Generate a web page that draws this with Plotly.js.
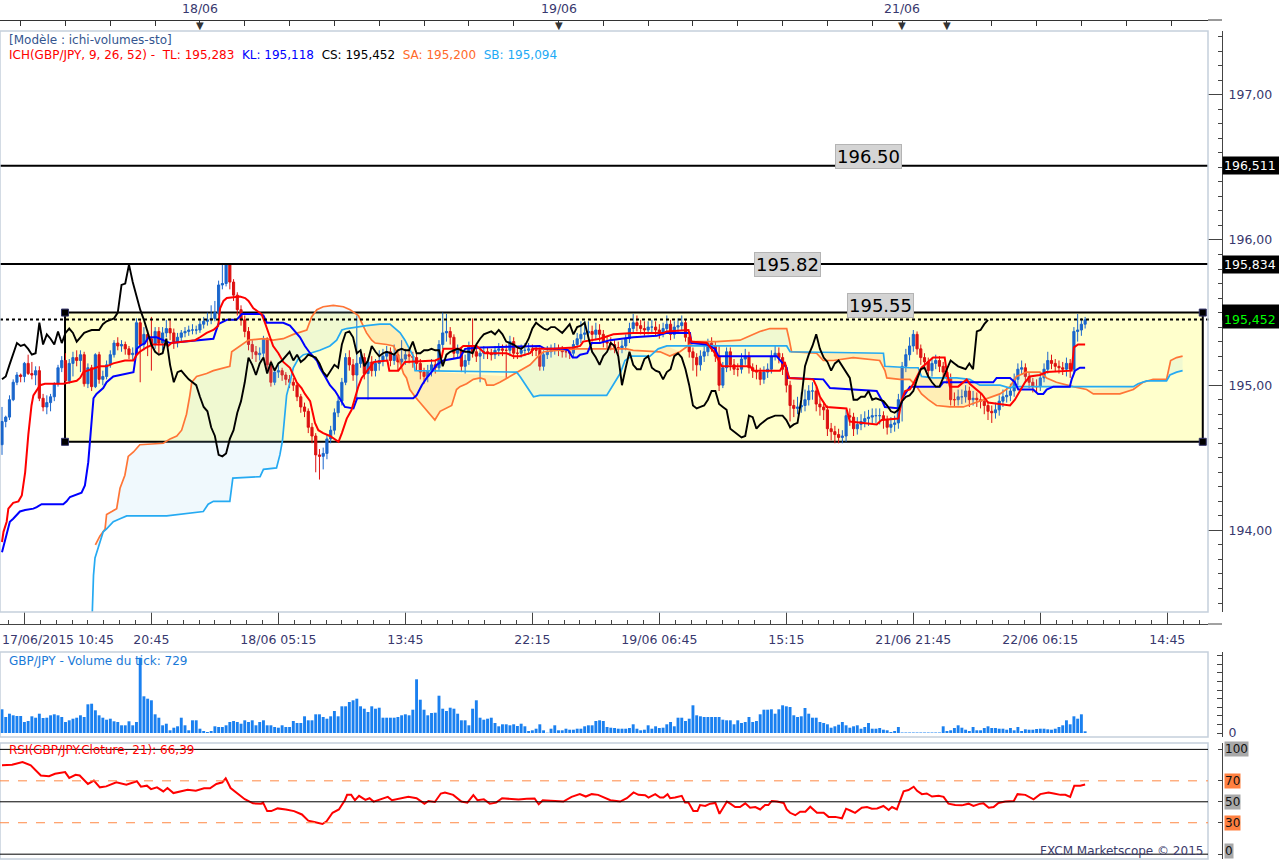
<!DOCTYPE html>
<html><head><meta charset="utf-8">
<script src="https://cdn.plot.ly/plotly-3.0.1.min.js"></script>
<style>html,body{margin:0;padding:0;background:#fff;}#chart{width:1279px;height:860px;}</style>
</head><body><div id="chart"></div>
<script>
// ---------- DATA (15-minute candles, index 0 = 17/06/2015 10:45) ----------
const closeP = [194.75,194.78,194.90,195.02,195.07,195.06,195.15,195.08,195.07,195.10,
194.91,194.85,194.88,194.92,195.01,195.12,195.17,195.03,195.15,195.19,
195.17,195.21,195.01,195.12,194.99,195.21,195.04,195.06,195.14,195.21,
195.29,195.27,195.28,195.25,195.21,195.22,195.43,195.28,195.35,195.32,
195.28,195.37,195.29,195.36,195.39,195.36,195.30,195.33,195.36,195.37,
195.38,195.38,195.38,195.42,195.44,195.45,195.46,195.50,195.69,195.70,
195.83,195.71,195.62,195.52,195.45,195.37,195.28,195.23,195.21,195.22,
195.32,195.14,195.02,195.09,195.10,195.07,195.04,195.02,195.00,194.92,
194.85,194.82,194.71,194.65,194.52,194.51,194.53,194.63,194.69,194.81,
194.89,195.02,195.19,195.14,195.07,195.15,195.19,195.08,195.16,195.10,
195.15,195.17,195.20,195.23,195.17,195.21,195.16,195.18,195.21,195.20,
195.19,195.15,195.09,195.06,195.10,195.14,195.12,195.28,195.36,195.37,
195.33,195.22,195.24,195.13,195.17,195.27,195.23,195.20,195.22,195.23,
195.22,195.21,195.24,195.25,195.24,195.24,195.30,195.22,195.22,195.24,
195.24,195.25,195.24,195.24,195.13,195.21,195.23,195.24,195.25,195.24,
195.23,195.23,195.22,195.28,195.32,195.35,195.36,195.37,195.35,195.38,
195.35,195.30,195.29,195.28,195.26,195.25,195.27,195.32,195.39,195.43,
195.41,195.39,195.38,195.40,195.40,195.38,195.36,195.39,195.42,195.35,
195.40,195.41,195.43,195.33,195.23,195.19,195.14,195.20,195.23,195.29,
195.27,195.20,195.00,195.12,195.23,195.14,195.11,195.11,195.18,195.20,
195.12,195.10,195.09,195.04,195.09,195.11,195.20,195.22,195.19,195.11,
195.00,194.86,194.84,194.85,194.86,194.90,194.96,194.96,194.87,194.85,
194.83,194.70,194.68,194.66,194.64,194.65,194.79,194.78,194.70,194.73,
194.75,194.77,194.78,194.79,194.79,194.79,194.76,194.71,194.73,194.74,
194.90,195.13,195.21,195.27,195.35,195.25,195.19,195.16,195.10,195.15,
195.17,195.13,195.09,195.05,194.90,194.90,194.92,194.92,194.96,194.90,
194.91,194.90,194.89,194.86,194.82,194.81,194.83,194.89,194.92,194.93,
194.96,195.04,195.11,195.12,195.06,195.02,194.99,194.99,195.05,195.11,
195.17,195.15,195.13,195.12,195.11,195.15,195.11,195.37,195.38,195.42,
195.45];

const openP = [194.59,194.75,194.78,194.90,195.02,195.07,195.06,195.15,195.08,195.07,
195.10,194.91,194.85,194.88,194.92,195.01,195.12,195.17,195.03,195.15,
195.19,195.17,195.21,195.01,195.12,194.99,195.21,195.04,195.06,195.14,
195.21,195.29,195.27,195.28,195.25,195.21,195.22,195.43,195.28,195.35,
195.32,195.28,195.37,195.29,195.36,195.39,195.36,195.30,195.33,195.36,
195.37,195.38,195.38,195.38,195.42,195.44,195.45,195.46,195.50,195.69,
195.70,195.83,195.71,195.62,195.52,195.45,195.37,195.28,195.23,195.21,
195.22,195.32,195.14,195.02,195.09,195.10,195.07,195.04,195.02,195.00,
194.92,194.85,194.82,194.71,194.65,194.52,194.51,194.53,194.63,194.69,
194.81,194.89,195.02,195.19,195.14,195.07,195.15,195.19,195.08,195.16,
195.10,195.15,195.17,195.20,195.23,195.17,195.21,195.16,195.18,195.21,
195.20,195.19,195.15,195.09,195.06,195.10,195.14,195.12,195.28,195.36,
195.37,195.33,195.22,195.24,195.13,195.17,195.27,195.23,195.20,195.22,
195.23,195.22,195.21,195.24,195.25,195.24,195.24,195.30,195.22,195.22,
195.24,195.24,195.25,195.24,195.24,195.13,195.21,195.23,195.24,195.25,
195.24,195.23,195.23,195.22,195.28,195.32,195.35,195.36,195.37,195.35,
195.38,195.35,195.30,195.29,195.28,195.26,195.25,195.27,195.32,195.39,
195.43,195.41,195.39,195.38,195.40,195.40,195.38,195.36,195.39,195.42,
195.35,195.40,195.41,195.43,195.33,195.23,195.19,195.14,195.20,195.23,
195.29,195.27,195.20,195.00,195.12,195.23,195.14,195.11,195.11,195.18,
195.20,195.12,195.10,195.09,195.04,195.09,195.11,195.20,195.22,195.19,
195.11,195.00,194.86,194.84,194.85,194.86,194.90,194.96,194.96,194.87,
194.85,194.83,194.70,194.68,194.66,194.64,194.65,194.79,194.78,194.70,
194.73,194.75,194.77,194.78,194.79,194.79,194.79,194.76,194.71,194.73,
194.74,194.90,195.13,195.21,195.27,195.35,195.25,195.19,195.16,195.10,
195.15,195.17,195.13,195.09,195.05,194.90,194.90,194.92,194.92,194.96,
194.90,194.91,194.90,194.89,194.86,194.82,194.81,194.83,194.89,194.92,
194.93,194.96,195.04,195.11,195.12,195.06,195.02,194.99,194.99,195.05,
195.11,195.17,195.15,195.13,195.12,195.11,195.15,195.11,195.37,195.38,
195.42];

const highP = [194.85,194.79,194.93,195.04,195.09,195.08,195.16,195.21,195.16,195.13,
195.13,194.94,194.93,194.94,195.02,195.14,195.20,195.22,195.18,195.23,
195.24,195.24,195.23,195.15,195.14,195.22,195.23,195.10,195.17,195.24,
195.31,195.33,195.31,195.30,195.27,195.26,195.46,195.45,195.40,195.38,
195.47,195.40,195.40,195.40,195.45,195.45,195.39,195.36,195.38,195.40,
195.41,195.42,195.41,195.45,195.47,195.50,195.55,195.58,195.72,195.84,
195.84,195.84,195.73,195.64,195.55,195.48,195.40,195.31,195.27,195.26,
195.34,195.33,195.17,195.12,195.14,195.12,195.09,195.07,195.05,195.02,
194.94,194.88,194.84,194.74,194.67,194.56,194.57,194.66,194.72,194.84,
194.92,195.05,195.22,195.24,195.18,195.48,195.25,195.22,195.19,195.20,
195.18,195.24,195.25,195.27,195.26,195.28,195.24,195.31,195.25,195.25,
195.23,195.22,195.18,195.12,195.14,195.18,195.17,195.31,195.50,195.49,
195.40,195.35,195.28,195.26,195.21,195.30,195.46,195.27,195.26,195.27,
195.26,195.25,195.27,195.29,195.28,195.28,195.34,195.33,195.26,195.28,
195.29,195.29,195.28,195.27,195.26,195.24,195.27,195.28,195.29,195.28,
195.27,195.26,195.26,195.31,195.36,195.44,195.44,195.44,195.41,195.43,
195.42,195.38,195.34,195.33,195.31,195.30,195.31,195.35,195.43,195.49,
195.48,195.45,195.44,195.44,195.45,195.44,195.42,195.43,195.48,195.45,
195.44,195.46,195.48,195.45,195.35,195.26,195.22,195.24,195.27,195.32,
195.33,195.30,195.27,195.16,195.26,195.26,195.18,195.15,195.22,195.25,
195.23,195.15,195.14,195.12,195.13,195.15,195.24,195.27,195.26,195.22,
195.14,195.03,194.90,194.92,194.95,194.97,195.00,195.02,194.99,194.91,
194.88,194.86,194.74,194.72,194.70,194.69,194.83,194.84,194.81,194.78,
194.80,194.82,194.83,194.84,194.84,194.84,194.82,194.79,194.78,194.79,
194.94,195.16,195.25,195.33,195.38,195.37,195.28,195.22,195.19,195.19,
195.21,195.20,195.16,195.12,195.08,194.95,194.97,194.97,195.00,194.99,
194.96,194.95,194.94,194.92,194.89,194.86,194.88,194.93,194.97,194.98,
195.01,195.08,195.15,195.17,195.15,195.09,195.05,195.04,195.09,195.15,
195.23,195.21,195.18,195.17,195.16,195.19,195.18,195.40,195.49,195.46,
195.47];

const lowP = [194.52,194.71,194.76,194.89,195.00,195.02,195.02,195.07,195.04,195.00,
194.89,194.82,194.80,194.82,194.89,194.99,195.09,195.01,195.01,195.06,
195.13,195.09,194.99,194.98,194.96,194.98,195.01,195.00,195.04,195.12,
195.19,195.24,195.23,195.21,195.18,195.17,195.20,195.02,195.24,195.20,
195.10,195.25,195.22,195.24,195.33,195.31,195.25,195.26,195.30,195.33,
195.34,195.35,195.35,195.36,195.39,195.41,195.42,195.44,195.48,195.66,
195.68,195.66,195.58,195.48,195.41,195.33,195.24,195.18,195.16,195.17,
195.19,195.11,194.99,195.00,195.05,195.03,195.00,194.98,194.96,194.89,
194.81,194.78,194.67,194.60,194.40,194.35,194.42,194.49,194.60,194.66,
194.78,194.86,195.00,195.10,195.03,194.90,195.12,195.04,194.90,195.06,
195.06,195.10,195.13,195.17,195.13,195.14,195.10,195.12,195.14,195.15,
195.12,195.10,195.04,195.01,195.02,195.06,195.08,195.10,195.25,195.30,
195.28,195.18,195.18,195.09,195.08,195.14,195.19,195.16,195.02,195.18,
195.18,195.17,195.18,195.20,195.20,195.05,195.20,195.18,195.18,195.19,
195.20,195.21,195.20,195.20,195.10,195.10,195.18,195.19,195.21,195.20,
195.19,195.19,195.18,195.19,195.25,195.29,195.31,195.32,195.30,195.31,
195.30,195.26,195.25,195.24,195.22,195.20,195.22,195.24,195.29,195.36,
195.37,195.35,195.34,195.35,195.36,195.34,195.32,195.33,195.36,195.31,
195.32,195.36,195.38,195.30,195.19,195.10,195.06,195.10,195.16,195.20,
195.23,195.16,194.96,194.98,195.09,195.10,195.07,195.06,195.08,195.14,
195.08,195.05,195.04,195.00,195.01,195.05,195.08,195.17,195.15,195.07,
194.95,194.75,194.78,194.80,194.81,194.82,194.86,194.90,194.82,194.79,
194.76,194.65,194.62,194.60,194.60,194.60,194.61,194.72,194.65,194.66,
194.69,194.71,194.72,194.73,194.74,194.73,194.70,194.66,194.67,194.68,
194.70,194.75,195.09,195.17,195.23,195.21,195.14,195.11,195.05,195.06,
195.11,195.09,195.05,195.01,194.86,194.85,194.86,194.87,194.88,194.85,
194.86,194.85,194.84,194.80,194.76,194.74,194.77,194.79,194.85,194.88,
194.89,194.92,195.00,195.07,195.02,194.98,194.95,194.95,194.96,195.02,
195.08,195.11,195.09,195.08,195.07,195.06,195.05,195.08,195.30,195.34,
195.39];

const volume = [237,160,193,177,170,170,110,120,167,153,
193,150,153,177,187,177,160,110,127,143,
153,177,160,287,293,227,177,153,133,143,
117,110,77,77,117,77,110,753,367,343,
327,187,153,77,93,27,53,67,153,77,
27,127,127,43,20,10,20,67,60,60,
77,110,120,110,93,127,110,127,77,110,
127,77,77,60,53,77,60,60,120,100,
100,167,127,127,187,187,160,143,167,220,
167,267,267,310,327,343,267,243,210,267,
243,253,153,153,153,153,160,177,187,177,
233,537,333,233,177,200,203,373,243,220,
253,243,193,127,127,77,243,327,153,133,
143,153,100,67,87,87,77,87,70,93,
67,20,27,43,87,27,3,43,77,27,
27,43,33,33,43,43,67,77,77,120,
127,120,60,53,50,43,43,43,50,87,
43,27,33,77,43,67,50,53,87,110,
67,153,153,120,143,277,177,167,160,160,
160,160,160,133,127,127,87,127,100,110,
160,110,120,187,233,233,237,193,237,277,
267,260,177,160,167,250,193,153,153,110,
100,87,53,67,83,110,77,53,67,77,
43,60,100,43,43,50,33,27,10,20,
60,5,5,5,5,5,5,5,5,5,
5,5,67,20,27,50,77,53,33,20,
60,27,27,50,67,50,50,43,43,33,
50,27,60,20,37,33,33,40,43,43,
37,33,43,60,77,127,87,167,143,187,
17];

// Ichimoku lines (x = candle index)
const tenkanX = [0,0.4,1.25,1.7,3,4.4,5.3,6.2,7.05,7.9,
8.4,9.3,10.2,11.5,16.4,20,20.9,21.8,22.8,26.2,
28,29.8,32.9,35.2,36.1,36.9,38.7,40.5,44.1,44.5,
45.4,49,51.7,53,54.8,56.6,57.9,58.4,59.3,60.2,
63.7,65.1,66,67.3,69.5,70.4,71.8,72.6,74,75.3,
77.1,78.9,80.2,81.1,82.5,82.9,83.8,84.7,86,87.8,
90.1,91,92.3,93.6,94.5,95.4,96.3,97.2,98.5,99.6,
103.2,103.7,106.1,107,107.9,116,117.7,118.2,122.6,123.5,
127.1,129.3,135.1,136.9,138.7,141.4,142.3,147.6,153,154.8,
155.6,160.1,163.7,169,177.1,178,183.8,184.6,188.7,190.9,
192.7,200.3,201.2,208.3,209.6,210.1,210.8,217.2,218.1,219,
220.8,226.1,227,234.2,235.5,240,240.9,241.8,243.1,244,
246.2,249.3,252.4,252.9,253.8,256,258.3,259.1,260.9,262.3,
264,269.9,271.2,272.5,273.9,275.2,277.9,279.7,286.4,287,
288.1,290];
const tenkanY = [193.92,193.99,194.06,194.15,194.19,194.20,194.24,194.40,194.66,194.86,
194.93,194.97,195.00,195.01,195.01,195.03,195.05,195.09,195.10,195.13,
195.13,195.15,195.17,195.17,195.21,195.23,195.26,195.28,195.28,195.27,
195.29,195.30,195.31,195.33,195.36,195.38,195.41,195.53,195.58,195.60,
195.61,195.60,195.58,195.53,195.49,195.43,195.33,195.27,195.22,195.16,
195.12,195.02,194.98,194.94,194.89,194.84,194.74,194.69,194.67,194.65,
194.61,194.67,194.77,194.83,194.91,194.99,195.05,195.08,195.13,195.16,
195.17,195.10,195.10,195.13,195.16,195.17,195.19,195.25,195.25,195.27,
195.27,195.22,195.22,195.20,195.20,195.22,195.25,195.25,195.26,195.27,
195.30,195.32,195.35,195.36,195.36,195.37,195.38,195.30,195.29,195.22,
195.13,195.13,195.10,195.10,195.16,195.10,195.05,195.04,194.99,194.92,
194.85,194.84,194.75,194.73,194.76,194.77,194.90,194.96,194.97,195.01,
195.12,195.19,195.19,195.10,194.99,194.99,195.04,195.01,194.97,194.94,
194.88,194.86,194.90,194.96,195.02,195.06,195.07,195.09,195.10,195.26,
195.28,195.28];

const kijunX = [0,1.25,2.1,3,4.8,6.2,8.4,9.3,10.6,16.4,
17.3,18.2,21.3,22.2,23.1,24.5,25.3,27.1,28,29.8,
33.4,35.2,35.6,36.1,36.9,38.3,39.2,41.4,45,49.4,
52.1,56.6,57.9,60.2,62.8,64.2,69.1,70,70.9,75.3,
77.1,78.4,79.8,81.1,82.5,84.3,85.1,86.5,87.8,89.2,
90.5,91.8,94.1,95.1,110.1,111,112.4,113.7,115,116.4,
118.2,122.6,124,128,144,145.4,150.3,151.6,152.8,153.9,
154.8,156.7,157.9,160.1,162.8,169,175.3,178,184.2,184.6,
188.7,190.9,191.8,207.4,208.7,210.1,210.5,219.9,221.7,227,
234.2,235.5,236.4,240.4,241.3,243.1,251.1,252,265.4,266.3,
269.9,271.2,272.1,276.1,277.4,278.8,279.7,281.5,285.9,286.4,
287.3,288.6,290];
const kijunY = [193.85,193.97,194.06,194.08,194.13,194.14,194.15,194.16,194.18,194.18,
194.20,194.23,194.26,194.31,194.47,194.91,194.94,194.98,195.02,195.06,
195.08,195.09,195.16,195.25,195.27,195.29,195.33,195.33,195.29,195.30,
195.31,195.32,195.42,195.45,195.45,195.49,195.49,195.48,195.43,195.43,
195.41,195.37,195.33,195.27,195.22,195.17,195.12,195.06,195.00,194.96,
194.90,194.85,194.84,194.91,194.91,194.93,195.00,195.05,195.09,195.14,
195.17,195.19,195.25,195.26,195.27,195.25,195.25,195.24,195.19,195.19,
195.21,195.22,195.29,195.29,195.31,195.33,195.34,195.36,195.36,195.29,
195.28,195.25,195.20,195.20,195.16,195.12,195.05,195.04,194.98,194.97,
194.96,194.90,194.85,194.84,194.92,194.99,194.99,195.02,195.02,195.05,
195.05,195.02,194.97,194.97,194.94,194.94,194.97,194.99,194.99,195.04,
195.10,195.12,195.12];

const spanAX = [25,26.2,27.6,28,29.4,30.7,31.6,32.9,33.8,35.2,
36.9,43.2,45,46.8,48.1,49.4,50.3,50.8,52.1,54.8,
56.6,61,61.5,66,70,72.6,75.3,78,81.6,82.9,
84.3,86,88.7,91.4,93.2,95.4,96.3,97.6,99,99.9,
103,104.8,105.7,106.6,107.5,108.3,109.2,110.6,111.9,113.7,
115,115.9,117.3,119.1,120.4,121.7,122.6,124.4,126.2,128,
129.3,129.8,131.6,133.3,136,138.2,141.4,143.6,145,148.5,
153.9,157.4,160.1,167.2,169,176.2,178.8,181.5,184.2,186,
191.3,197.6,199.4,202.9,205.6,210.1,210.8,211.4,218.1,219.9,
222.6,227.9,235,236.4,236.9,240.4,243.1,244.9,246.2,248,
250.2,253.8,257.4,262.7,267.2,269.9,271.6,274.3,277.9,279.7,
282.3,286.8,290.4,292.2,299.3,302.9,305.5,308.2,311.8,312.9,
314.5,316.1];
const spanAY = [193.90,193.96,194.01,194.11,194.13,194.15,194.29,194.38,194.51,194.54,
194.59,194.60,194.63,194.65,194.69,194.80,194.93,195.02,195.06,195.08,
195.10,195.13,195.23,195.31,195.32,195.31,195.32,195.35,195.38,195.47,
195.52,195.54,195.55,195.54,195.52,195.48,195.43,195.36,195.31,195.29,
195.28,195.27,195.23,195.16,195.08,195.05,194.97,194.92,194.88,194.83,
194.79,194.76,194.82,194.84,194.86,194.97,194.99,195.01,195.04,195.05,
195.04,195.00,195.00,195.02,195.06,195.09,195.14,195.20,195.23,195.24,
195.25,195.25,195.25,195.25,195.24,195.23,195.20,195.23,195.28,195.30,
195.30,195.31,195.33,195.37,195.39,195.39,195.31,195.23,195.22,195.17,
195.17,195.19,195.17,195.10,195.05,195.04,195.04,194.99,194.94,194.90,
194.86,194.85,194.85,194.90,194.94,194.99,195.06,195.09,195.09,195.05,
195.02,194.99,194.97,194.94,194.94,194.97,195.02,195.04,195.04,195.17,
195.19,195.20];

const spanBX = [24,24.5,24.9,25.8,27.1,28,29.8,31.6,33.4,44.1,
47.7,50.3,53.9,55.2,56.6,61,61.8,69.1,70,73.5,
74.4,75.1,75.8,76.2,77.1,78,79.3,80.7,82.5,85.1,
87.8,89.6,91,92.3,97.6,101.2,103.9,105.2,106.6,107.9,
109.2,110.1,110.6,137.8,138.7,140.5,142.3,144,160.1,161.9,
165.5,166.8,168.6,173.5,175.7,178,210.1,211,236,236.4,
243.1,245.3,246.2,249.3,255.6,259.1,261.8,267.2,269.9,270.7,
302.9,304.2,306.5,311.8,312.7,314.5,316.1];
const spanBY = [193.30,193.69,193.81,193.88,193.99,194.01,194.06,194.08,194.10,194.10,
194.11,194.12,194.13,194.18,194.20,194.20,194.36,194.37,194.42,194.43,
194.52,194.62,194.80,194.93,195.02,195.12,195.18,195.21,195.22,195.24,
195.27,195.31,195.38,195.39,195.41,195.42,195.42,195.39,195.36,195.31,
195.25,195.20,195.10,195.09,195.06,194.99,194.92,194.93,194.93,194.93,
195.08,195.17,195.20,195.20,195.25,195.27,195.27,195.23,195.22,195.13,
195.12,195.12,195.06,195.05,195.05,195.04,195.00,195.00,194.98,194.99,
194.99,195.01,195.03,195.03,195.07,195.09,195.10];

// where span A and span B cross (cloud colour changes)
const cloudBreaks = [25,97,137.5,175,183.5,211,269.5,287,304.5,316.1];

const rsiIdx = [0,2.7,5.5,7.7,10.4,12.6,14.2,16.9,18,19.7,
20.8,23,24.6,26.2,27.9,30.6,33.3,36.1,37.2,38.8,
39.9,41.5,43.2,44.3,45.9,47.5,49.7,51.9,54.1,55.7,
57.4,59,59.9,61.2,62.8,65,67.2,69.4,69.9,71,
72.1,73.8,76,78.2,80.3,82,83.6,85.8,86.9,88.5,
90.2,91.8,92.4,93.5,94.5,95.6,97.3,98.4,99.5,101.1,
103.3,104.4,106.6,108.8,111,113.1,114.2,115.9,117.5,118.6,
120.8,123,124.6,126.2,127.3,129,130.6,132.3,133.9,136.1,
138.3,140.5,142.6,143.7,144.8,148.1,150.3,152.5,154.7,156.3,
157.9,159.6,161.2,162.9,164.5,
165.5,167.3,169.1,170.4,172.2,173.1,174.9,176.2,177.1,178.2,
178.9,180.2,182,182.9,183.8,185.1,186.2,186.9,188.3,189.6,
191,192.1,193.2,194.1,195,196.3,197.6,199,200.3,201.7,
203,204.3,205.2,206.1,207.5,209.3,210.1,211,212.4,213.7,
215.1,216.4,218.2,220,221.3,223.1,224.9,226,227.1,228.4,
230.2,231.6,232.9,234.3,236,237.4,238.3,239.6,241.4,242.7,
244.1,245,246.3,247.6,249,250.8,252.1,253.4,255.2,257,
258.8,260.1,261.9,262.8,264.2,265.5,266.8,268.6,270.9,271.9,
274,276.2,278,280.2,281.6,283.4,284.7,286,287.1,288.7,
290];
const rsiVal = [84.8,85.4,88.0,84.8,75.1,74.4,76.7,78.3,72.8,75.7,
75.1,67.0,70.2,63.8,64.7,68.6,66.3,69.6,64.4,65.4,
62.1,63.8,59.9,63.1,58.3,59.9,61.5,60.5,62.8,62.8,
67.0,68.6,72.5,63.1,58.9,52.4,48.5,48.2,49.2,41.1,
41.1,43.7,42.7,41.1,37.9,32.0,30.7,28.8,31.4,39.5,
42.7,51.5,56.6,56.6,51.5,55.7,51.8,53.4,50.2,52.4,
54.7,51.5,53.4,54.7,53.4,48.2,50.8,49.8,57.9,58.9,
56.6,50.2,49.2,56.3,51.5,52.4,48.2,49.2,53.4,53.1,
52.1,52.8,53.1,47.6,51.5,50.8,50.2,54.7,57.3,55.0,
57.3,56.6,54.0,51.5,50.8,
50.2,53.4,58.9,56.6,56.3,54.0,57.3,54.0,54.0,57.3,
53.4,54.0,55.7,49.2,49.2,41.1,41.1,46.9,46.0,48.2,
48.9,38.5,44.3,50.2,48.2,45.0,45.0,48.5,44.3,45.0,
42.7,46.9,46.9,50.8,50.2,48.9,42.7,39.5,37.2,40.5,
40.5,45.3,39.5,39.5,35.6,35.6,34.3,43.4,41.7,39.5,
44.3,45.0,43.4,43.7,46.0,42.1,45.0,42.7,59.9,61.2,
64.4,60.5,57.3,57.9,55.0,55.7,54.7,48.2,46.9,46.6,
48.2,46.0,48.2,48.5,44.3,45.0,48.9,50.2,50.8,57.3,
56.6,52.4,57.3,58.9,57.9,56.6,56.6,54.7,65.4,65.4,
66.4];

// axis ticks / labels
const bottomTickIdx = [6,40,74,108,142,176,210,244,278,312];
const bottomTickText = ['','20:45','18/06 05:15','13:45','22:15','19/06 06:45','15:15','21/06 21:45','22/06 06:15','14:45'];
const firstTimeLabel = '17/06/2015 10:45';
const topTickIdx = [5,17,29,41,53,65,77,89,101,113,125,137,149,161,173,185,197,209,221,233,241,253,265,277,289,301,313];
const dayLabelIdx = [53,149,241];
const dayLabelText = ['18/06','19/06','21/06'];
const dayMarkerIdx = [53,149,241,253];
const priceTickVals = [194,195,196,197];
const priceTickText = ['194,00','195,00','196,00','197,00'];
const levelVals = [196.511,195.834];
const levelText = ['196.50','195.82'];
const boxTop = 195.50, boxBottom = 194.61, boxLeftIdx = 16.87, boxRightIdx = 321.5;
const boxLabel = '195.55';
const lastPrice = 195.452;
const tagVals = [196.511,195.834,195.452];
const tagText = ['196,511','195,834','195,452'];
const tagColor = ['#ffffff','#ffffff','#00ff00'];
const hiddenTagVal = 195.50;   // tag of the box top, mostly hidden behind the last-price tag
const rsiLevels = [100,70,50,30,0];
const rsiLevelBg = ['#a8a8a8','#ff8040','#a8a8a8','#ff8040','#a8a8a8'];
const volTickVals = [0,86,172,258,344,430,516,602,688,774];
const CHIKOU_SHIFT = 26;

// ---------- LAYOUT HELPERS ----------
const W = 1279, H = 860;
const fx = v => v / W, fy = v => 1 - v / H;
const XDOM = [0, fx(1208)];
const AX = fx(1222);
const XR = [-0.535, 322.9];
const F = 'DejaVu Sans, Verdana, sans-serif';
const tickFont = {family: F, size: 12.5, color: '#38386e'};
const idx = closeP.map((_, i) => i);

const traces = [];
// cloud fills
const blueFill = 'rgba(150,210,240,0.14)', orangeFill = 'rgba(255,150,60,0.16)';
for (let k = 0; k < cloudBreaks.length - 1; k++) {
  const a = cloudBreaks[k], b = cloudBreaks[k + 1];
  const A = spanAX.map((x, i) => [x, spanAY[i]]).filter(p => p[0] >= a && p[0] <= b);
  const B = spanBX.map((x, i) => [x, spanBY[i]]).filter(p => p[0] >= a && p[0] <= b);
  if (!A.length || !B.length) continue;
  const mA = A.reduce((s, p) => s + p[1], 0) / A.length;
  const mB = B.reduce((s, p) => s + p[1], 0) / B.length;
  const poly = A.concat(B.slice().reverse());
  traces.push({type: 'scatter', mode: 'lines', x: poly.map(p => p[0]), y: poly.map(p => p[1]),
    fill: 'toself', fillcolor: mA >= mB ? blueFill : orangeFill, line: {width: 0}, hoverinfo: 'skip'});
}
traces.push({type: 'scatter', mode: 'lines', x: spanAX, y: spanAY, line: {color: '#ff7536', width: 1.7}, hoverinfo: 'skip'});
traces.push({type: 'scatter', mode: 'lines', x: spanBX, y: spanBY, line: {color: '#25aaf2', width: 1.7}, hoverinfo: 'skip'});
traces.push({type: 'candlestick', x: idx, open: openP, high: highP, low: lowP, close: closeP,
  increasing: {line: {color: '#1a66cc', width: 1}, fillcolor: '#1a66cc'},
  decreasing: {line: {color: '#dd1111', width: 1}, fillcolor: '#dd1111'},
  whiskerwidth: 0, hoverinfo: 'skip'});
traces.push({type: 'scatter', mode: 'lines', x: kijunX, y: kijunY, line: {color: '#0000ff', width: 2}, hoverinfo: 'skip'});
traces.push({type: 'scatter', mode: 'lines', x: tenkanX, y: tenkanY, line: {color: '#ff0000', width: 2}, hoverinfo: 'skip'});
const chX = [], chY = [];
for (let i = 0; i + CHIKOU_SHIFT < closeP.length; i++) { chX.push(i); chY.push(closeP[i + CHIKOU_SHIFT]); }
traces.push({type: 'scatter', mode: 'lines', x: chX, y: chY, line: {color: '#000000', width: 1.9}, hoverinfo: 'skip'});
traces.push({type: 'bar', x: idx, y: volume, xaxis: 'x2', yaxis: 'y2', marker: {color: '#1a80f0', line: {width: 0}}, hoverinfo: 'skip'});
traces.push({type: 'scatter', mode: 'lines', x: rsiIdx, y: rsiVal, xaxis: 'x3', yaxis: 'y3', line: {color: '#ff0000', width: 2}, hoverinfo: 'skip'});
traces.push({type: 'scatter', mode: 'markers', x: [null], y: [null], xaxis: 'x4', yaxis: 'y', hoverinfo: 'skip'});

// ---------- SHAPES ----------
const shapes = [];
shapes.push({type: 'rect', xref: 'x', yref: 'y', x0: boxLeftIdx, x1: boxRightIdx, y0: boxBottom, y1: boxTop,
  fillcolor: '#ffffcc', line: {color: '#000', width: 2}, layer: 'below'});
[[boxLeftIdx, boxTop], [boxLeftIdx, boxBottom], [boxRightIdx, boxTop], [boxRightIdx, boxBottom]].forEach(c => {
  shapes.push({type: 'rect', xref: 'x', yref: 'y', xsizemode: 'pixel', ysizemode: 'pixel', xanchor: c[0], yanchor: c[1],
    x0: -3.5, x1: 3.5, y0: -3.5, y1: 3.5, fillcolor: '#000', line: {color: '#33336a', width: 1}});
});
levelVals.forEach(v => shapes.push({type: 'line', xref: 'paper', yref: 'y', x0: 0, x1: fx(1208), y0: v, y1: v, line: {color: '#000', width: 2}}));
shapes.push({type: 'line', xref: 'paper', yref: 'y', x0: 0, x1: fx(1210), y0: lastPrice, y1: lastPrice, line: {color: '#000', width: 2, dash: 'dot'}});
// partly hidden tag of the box top (black strip peeking above the last-price tag)
shapes.push({type: 'rect', xref: 'paper', yref: 'y', ysizemode: 'pixel', yanchor: hiddenTagVal, x0: AX, x1: fx(1279),
  y0: -8, y1: 8, fillcolor: '#000', line: {width: 0}});
const border = '#c5d0dc';
shapes.push({type: 'rect', xref: 'paper', yref: 'paper', x0: 0, x1: fx(1208), y0: fy(612), y1: fy(31), line: {color: border, width: 1.5}});
shapes.push({type: 'rect', xref: 'paper', yref: 'paper', x0: 0, x1: fx(1208), y0: fy(737), y1: fy(652), line: {color: border, width: 1.5}});
shapes.push({type: 'rect', xref: 'paper', yref: 'paper', x0: 0, x1: fx(1208), y0: fy(859), y1: fy(743), line: {color: border, width: 1.5}});
shapes.push({type: 'line', xref: 'paper', yref: 'paper', x0: fx(1208), x1: AX, y0: fy(624), y1: fy(624), line: {color: '#444', width: 1}});
shapes.push({type: 'line', xref: 'paper', yref: 'paper', x0: fx(1208), x1: AX, y0: fy(20), y1: fy(20), line: {color: '#333', width: 1}});
rsiLevels.forEach(v => {
  const dashed = (v === 70 || v === 30);
  shapes.push({type: 'line', xref: 'paper', yref: 'y3', x0: 0, x1: fx(1208), y0: v, y1: v,
    line: {color: dashed ? '#ff8844' : '#000', width: 1, dash: dashed ? 'dash' : 'solid'}});
});

// ---------- ANNOTATIONS ----------
const ann = [];
ann.push({xref: 'paper', yref: 'paper', x: fx(7), y: fy(40), xanchor: 'left', yanchor: 'middle', showarrow: false,
  text: '[Modèle : ichi-volumes-sto]', font: {family: F, size: 12, color: '#34558f'}});
const sp = '&#160;&#160;';
ann.push({xref: 'paper', yref: 'paper', x: fx(7), y: fy(55), xanchor: 'left', yanchor: 'middle', showarrow: false,
  text: '<span style="color:#ff0000">ICH(GBP/JPY, 9, 26, 52) -' + sp + 'TL: 195,283</span>' + sp +
        '<span style="color:#0000ff">KL: 195,118</span>' + sp +
        '<span style="color:#000000">CS: 195,452</span>' + sp +
        '<span style="color:#ff6a2a">SA: 195,200</span>' + sp +
        '<span style="color:#1eaaf5">SB: 195,094</span>',
  font: {family: F, size: 12, color: '#ff0000'}});
ann.push({xref: 'paper', yref: 'paper', x: 0, y: fy(639), xanchor: 'left', yanchor: 'middle', showarrow: false,
  text: firstTimeLabel, font: tickFont});
dayLabelIdx.forEach((d, i) => ann.push({xref: 'x', yref: 'paper', x: d, y: fy(9), xanchor: 'center', yanchor: 'middle',
  showarrow: false, text: dayLabelText[i], font: tickFont}));
dayMarkerIdx.forEach(d => ann.push({xref: 'x', yref: 'paper', x: d, y: fy(25), xanchor: 'center', yanchor: 'middle',
  showarrow: false, text: '▼', font: {family: F, size: 10, color: '#333'}}));
const lvlStyle = {showarrow: false, font: {family: F, size: 18, color: '#000'}, bgcolor: '#d4d4d4', bordercolor: '#b4b4b4', borderwidth: 1, borderpad: 1};
ann.push(Object.assign({xref: 'x', yref: 'y', x: 231.9, y: levelVals[0], yanchor: 'bottom', yshift: -3, text: levelText[0]}, lvlStyle));
ann.push(Object.assign({xref: 'x', yref: 'y', x: 210.4, y: levelVals[1], yanchor: 'middle', text: levelText[1]}, lvlStyle));
ann.push(Object.assign({xref: 'x', yref: 'y', x: 235.1, y: boxTop, yanchor: 'bottom', yshift: -5, text: boxLabel}, lvlStyle));
tagVals.forEach((v, i) => ann.push({xref: 'paper', yref: 'y', x: AX, y: v, xanchor: 'left', yanchor: 'middle', showarrow: false,
  text: tagText[i], width: 56, align: 'left', bgcolor: '#000', borderpad: 1, font: {family: F, size: 12.5, color: tagColor[i]}}));
rsiLevels.forEach((v, i) => ann.push({xref: 'paper', yref: 'y3', x: fx(1224), y: v, xanchor: 'left', yanchor: 'middle', showarrow: false,
  yshift: v === 0 ? 3 : 0,
  text: String(v), bgcolor: rsiLevelBg[i], borderpad: 0, font: {family: F, size: 12, color: '#111'}}));
ann.push({xref: 'paper', yref: 'paper', x: fx(7), y: fy(661), xanchor: 'left', yanchor: 'middle', showarrow: false,
  text: 'GBP/JPY - Volume du tick: 729', font: {family: F, size: 12, color: '#1a7ad8'}});
ann.push({xref: 'paper', yref: 'paper', x: fx(7), y: fy(750), xanchor: 'left', yanchor: 'middle', showarrow: false,
  text: 'RSI(GBP/JPY.Cloture, 21): 66,39', font: {family: F, size: 12, color: '#ff0000'}});
ann.push({xref: 'paper', yref: 'paper', x: fx(1205), y: fy(851), xanchor: 'right', yanchor: 'middle', showarrow: false,
  text: 'FXCM Marketscope © 2015', font: {family: F, size: 12, color: '#3b3b6b'}});

const hiddenX = (anchor) => ({domain: XDOM, range: XR, anchor: anchor, showticklabels: false, ticks: '', showline: false,
  showgrid: false, zeroline: false, fixedrange: true});

const layout = {
  width: W, height: H, margin: {l: 0, r: 0, t: 0, b: 0, autoexpand: false},
  paper_bgcolor: '#ffffff', plot_bgcolor: 'rgba(0,0,0,0)', showlegend: false, dragmode: false,
  font: {family: F, size: 12, color: '#38386e'}, bargap: 0.22, boxgap: 0.18,
  xaxis: {domain: XDOM, range: XR, anchor: 'free', position: fy(624), side: 'bottom', showline: true, linecolor: '#444', linewidth: 1,
    ticks: 'inside', ticklen: 12, tickwidth: 1, tickcolor: '#444', tickmode: 'array', tickvals: bottomTickIdx, ticktext: bottomTickText,
    tickfont: tickFont, ticklabelstandoff: 4,
    minor: {tickmode: 'linear', tick0: 6, dtick: 4.25, ticks: 'inside', ticklen: 4, tickcolor: '#444', showgrid: false},
    showgrid: false, zeroline: false, rangeslider: {visible: false}, fixedrange: true, automargin: false},
  yaxis: {domain: [fy(612), fy(31)], range: [193.438, 197.439], anchor: 'free', position: AX, side: 'right',
    showline: true, linecolor: '#444', ticks: 'inside', ticklen: 14, tickcolor: '#444', tickmode: 'array',
    tickvals: priceTickVals, ticktext: priceTickText, tickfont: tickFont, ticklabelstandoff: 3,
    minor: {tickmode: 'linear', tick0: 194, dtick: 0.1, ticks: 'inside', ticklen: 4, tickcolor: '#444', showgrid: false},
    showgrid: false, zeroline: false, fixedrange: true, automargin: false},
  xaxis2: hiddenX('y2'),
  yaxis2: {domain: [fy(737), fy(652)], range: [-40, 810], anchor: 'free', position: AX, side: 'right', showline: true, linecolor: '#444',
    ticks: 'inside', ticklen: 5, tickcolor: '#444', tickmode: 'array', tickvals: volTickVals, ticktext: volTickVals.map(v => v === 0 ? '0' : ''),
    tickfont: tickFont, ticklabelstandoff: 3, showgrid: false, zeroline: false, fixedrange: true, automargin: false},
  xaxis3: hiddenX('y3'),
  yaxis3: {domain: [fy(859), fy(743)], range: [-4.6, 106.1], anchor: 'free', position: AX, side: 'right', showline: true, linecolor: '#444',
    ticks: 'inside', ticklen: 4, tickcolor: '#444', tickmode: 'array', tickvals: rsiLevels, showticklabels: false,
    showgrid: false, zeroline: false, fixedrange: true, automargin: false},
  xaxis4: {domain: XDOM, range: XR, overlaying: 'x', anchor: 'free', position: fy(20), side: 'top', showline: true, linecolor: '#333',
    ticks: 'inside', ticklen: 5, tickcolor: '#333', tickmode: 'array', tickvals: topTickIdx, showticklabels: false,
    showgrid: false, zeroline: false, fixedrange: true, automargin: false},
  shapes: shapes, annotations: ann
};

Plotly.newPlot('chart', traces, layout, {staticPlot: true, displayModeBar: false});
</script>
</body></html>
